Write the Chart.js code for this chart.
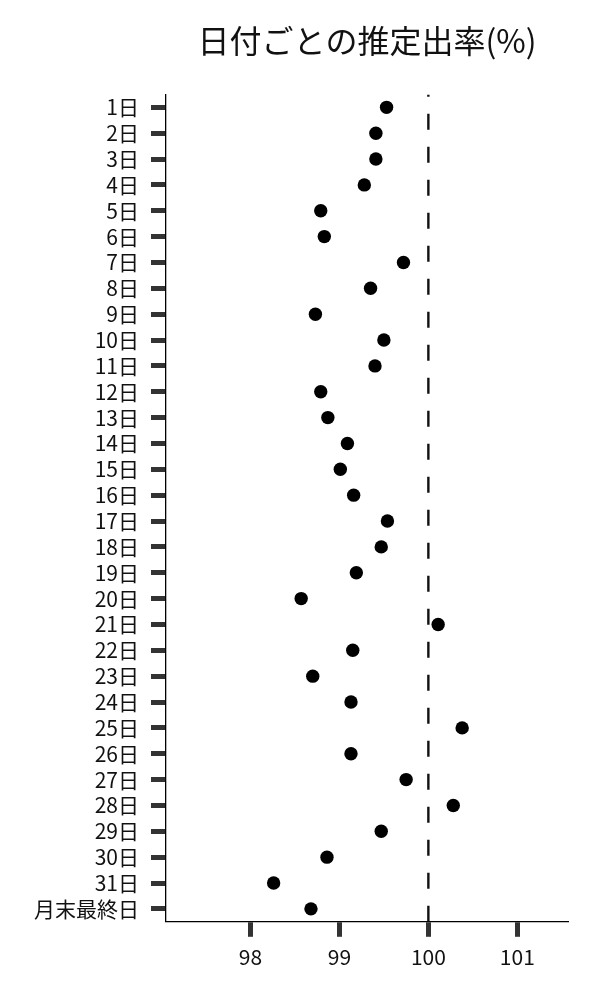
<!DOCTYPE html>
<html>
<head>
<meta charset="utf-8">
<script src="https://cdn.jsdelivr.net/npm/chart.js@4.4.1/dist/chart.umd.min.js"></script>
<style>
  html, body { margin: 0; padding: 0; background: #fff; }
  #wrap { width: 600px; height: 1000px; }
</style>
</head>
<body>
<div id="wrap"><canvas id="myChart" width="600" height="1000"></canvas></div>
<script>
const dayLabels = ['1日', '2日', '3日', '4日', '5日', '6日', '7日', '8日', '9日', '10日',
    '11日', '12日', '13日', '14日', '15日', '16日', '17日', '18日', '19日', '20日',
    '21日', '22日', '23日', '24日', '25日', '26日', '27日', '28日', '29日', '30日',
    '31日', '月末最終日'];
const rateValues = [99.53, 99.41, 99.41, 99.28, 98.79, 98.83, 99.72, 99.35, 98.73, 99.50,
    99.40, 98.79, 98.87, 99.09, 99.01, 99.16, 99.54, 99.47, 99.19, 98.57,
    100.11, 99.15, 98.70, 99.13, 100.38, 99.13, 99.75, 100.28, 99.47, 98.86,
    98.26, 98.68];
const xTicks = [98, 99, 100, 101];
const refValue = 100;

const FONT = "'Noto Sans CJK JP', 'Noto Sans', sans-serif";

// 100% の位置に破線を引く（下端から描く）
const refLine = {
    id: 'refLine',
    afterDatasetsDraw(chart) {
        const ctx = chart.ctx;
        const area = chart.chartArea;
        const x = chart.scales.x.getPixelForValue(refValue);
        ctx.save();
        ctx.beginPath();
        ctx.rect(area.left, area.top, area.right - area.left, area.bottom - area.top);
        ctx.clip();
        ctx.strokeStyle = '#111';
        ctx.lineWidth = 2.4;
        ctx.setLineDash([16, 17]);
        ctx.beginPath();
        ctx.moveTo(x, area.bottom);
        ctx.lineTo(x, area.top);
        ctx.stroke();
        ctx.restore();
    }
};

const ctx = document.getElementById('myChart').getContext('2d');
const myChart = new Chart(ctx, {
    type: 'line',
    data: {
        labels: dayLabels,
        datasets: [{
            data: rateValues,
            showLine: false,
            pointRadius: 6.7,
            pointBackgroundColor: '#000',
            pointBorderWidth: 0
        }]
    },
    options: {
        responsive: false,
        animation: false,
        indexAxis: 'y',
        layout: { padding: { left: 22, right: 32, top: 5, bottom: 22 } },
        plugins: {
            legend: { display: false },
            tooltip: { enabled: false },
            title: {
                display: true,
                text: '日付ごとの推定出率(%)',
                fullSize: false,
                color: '#111',
                font: { family: FONT, size: 32, weight: 'normal' },
                padding: { top: 17, bottom: 34 }
            }
        },
        scales: {
            x: {
                type: 'linear',
                min: 97.05,
                max: 101.57,
                afterBuildTicks: (scale) => { scale.ticks = xTicks.map(v => ({ value: v })); },
                grid: {
                    drawOnChartArea: false,
                    drawTicks: true,
                    tickLength: 15,
                    tickWidth: 5,
                    tickColor: '#333'
                },
                border: { display: true, color: '#000', width: 1.3 },
                ticks: {
                    color: '#111',
                    padding: 8,
                    font: { family: FONT, size: 21 }
                }
            },
            y: {
                type: 'category',
                offset: true,
                grid: {
                    offset: false,
                    drawOnChartArea: false,
                    drawTicks: true,
                    tickLength: 15,
                    tickWidth: 5,
                    tickColor: '#333'
                },
                border: { display: true, color: '#000', width: 1.3 },
                ticks: {
                    color: '#111',
                    padding: 12,
                    autoSkip: false,
                    font: { family: FONT, size: 21 }
                }
            }
        }
    },
    plugins: [refLine]
});
</script>
</body>
</html>
